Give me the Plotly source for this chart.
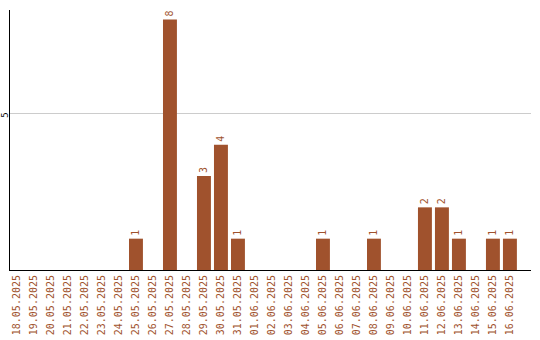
import plotly.graph_objects as go

dates = ["18.05.2025","19.05.2025","20.05.2025","21.05.2025","22.05.2025","23.05.2025",
         "24.05.2025","25.05.2025","26.05.2025","27.05.2025","28.05.2025","29.05.2025",
         "30.05.2025","31.05.2025","01.06.2025","02.06.2025","03.06.2025","04.06.2025",
         "05.06.2025","06.06.2025","07.06.2025","08.06.2025","09.06.2025","10.06.2025",
         "11.06.2025","12.06.2025","13.06.2025","14.06.2025","15.06.2025","16.06.2025"]
counts = [0,0,0,0,0,0,0,1,0,8,0,3,4,1,0,0,0,0,1,0,0,1,0,0,2,2,1,0,1,1]
labels = [str(v) if v else "" for v in counts]

color = "#A0522D"
fig = go.Figure(go.Bar(
    x=dates, y=counts, text=labels, textposition="outside", textangle=-90,
    cliponaxis=False,
    marker=dict(color=color, line=dict(width=0)),
    textfont=dict(family="DejaVu Sans Mono", size=10, color=color),
))
fig.update_layout(
    width=540, height=340,
    margin=dict(l=10, r=9, t=10, b=70, autoexpand=False),
    plot_bgcolor="white", paper_bgcolor="white",
    bargap=0.18, showlegend=False,
    xaxis=dict(type="category", range=[-0.41, 30.24], tickangle=-90,
               tickfont=dict(family="DejaVu Sans Mono", size=10, color=color),
               showline=True, linecolor="black", linewidth=1, showgrid=False,
               ticks="", fixedrange=True, automargin=False),
    yaxis=dict(range=[0, 8.3], tickvals=[5], ticktext=["5"], tickangle=-90,
               tickfont=dict(family="DejaVu Sans Mono", size=9, color="black"),
               ticklabelstandoff=-3, ticklabelshift=3,
               showline=True, linecolor="black", linewidth=1,
               showgrid=True, gridcolor="#CCCCCC", gridwidth=1, zeroline=False,
               ticks="", automargin=False),
)
fig.write_html("out.html")
